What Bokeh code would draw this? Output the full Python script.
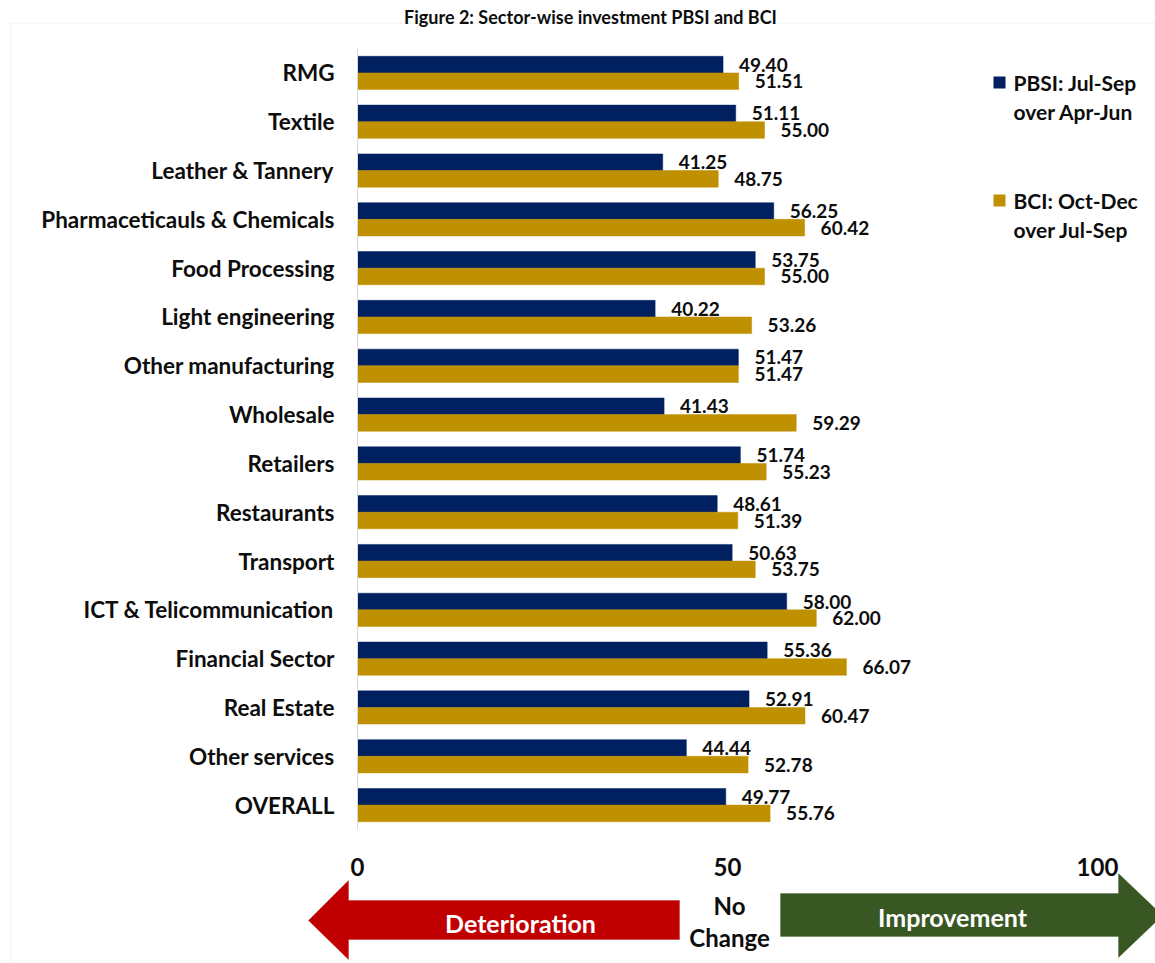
from bokeh.plotting import figure
from bokeh.models import (FixedTicker, Label, PolyAnnotation, BoxAnnotation,
                          ColumnDataSource, Range1d)
from bokeh.transform import dodge
from bokeh.core.properties import value
from bokeh.embed import file_html
from bokeh.resources import INLINE

# ---------------- data ----------------
categories = ["RMG", "Textile", "Leather & Tannery", "Pharmaceticauls & Chemicals",
              "Food Processing", "Light engineering", "Other manufacturing",
              "Wholesale", "Retailers", "Restaurants", "Transport",
              "ICT & Telicommunication", "Financial Sector", "Real Estate",
              "Other services", "OVERALL"]
pbsi = [49.40, 51.11, 41.25, 56.25, 53.75, 40.22, 51.47, 41.43, 51.74, 48.61,
        50.63, 58.00, 55.36, 52.91, 44.44, 49.77]
bci = [51.51, 55.00, 48.75, 60.42, 55.00, 53.26, 51.47, 59.29, 55.23, 51.39,
       53.75, 62.00, 66.07, 60.47, 52.78, 55.76]
series_names = ["PBSI: Jul-Sep\nover Apr-Jun", "BCI: Oct-Dec\nover Jul-Sep"]
x_ticks = [0, 50, 100]
title_text = "Figure 2: Sector-wise investment PBSI and BCI"

# ---------------- layout constants (canvas pixels) ----------------
W, H = 1155, 963
PL, PR, PT, PB = 357, 1097, 48, 829     # plot-area edges (0..100 horizontally)
BLUE = "#002060"
GOLD = "#BF9000"
RED = "#C00000"
GREEN = "#385723"
TXT = "#0d0d0d"
FONT = "Lato"

n = len(categories)
pitch = (PB - PT) / n
c0 = PT + pitch / 2
ppu = (PR - PL) / 100.0

# frame covers the whole canvas; ranges are set so the plot area lands where it should
x_range = Range1d(-PL / ppu, (W - PL) / ppu)
y_range = Range1d((H - c0) / pitch, (0 - c0) / pitch)   # flipped: first category on top

p = figure(width=W, height=H, output_backend="svg", toolbar_location=None,
           x_range=x_range, y_range=y_range,
           min_border=0, min_border_left=0, min_border_right=0,
           min_border_top=0, min_border_bottom=0)
p.outline_line_color = None
p.background_fill_color = "white"
p.border_fill_color = "white"
p.xgrid.visible = False
p.ygrid.visible = False

pos = list(range(n))
src = ColumnDataSource(dict(pos=pos, cat=categories, pbsi=pbsi, bci=bci,
                            pl=[f"{v:.2f}" for v in pbsi],
                            bl=[f"{v:.2f}" for v in bci]))

BH = 0.34
p.hbar(y=dodge("pos", -BH / 2), right="pbsi", left=0, height=BH,
       source=src, fill_color=BLUE, line_color=BLUE, line_width=0.5)
p.hbar(y=dodge("pos", BH / 2), right="bci", left=0, height=BH,
       source=src, fill_color=GOLD, line_color=GOLD, line_width=0.5)

lbl_kw = dict(x_offset=16, text_baseline="middle", text_align="left",
              text_font=value(FONT), text_font_style="bold",
              text_font_size="19px", text_color=TXT, source=src)
p.text(x="pbsi", y=dodge("pos", -BH / 2), text="pl", **lbl_kw)
p.text(x="bci", y=dodge("pos", BH / 2), text="bl", **lbl_kw)

# y axis (categories), pinned at x = 0
ya = p.yaxis[0]
ya.fixed_location = 0
ya.bounds = (-0.5, n - 0.5)
ya.ticker = FixedTicker(ticks=pos)
ya.major_label_overrides = {i: c for i, c in zip(pos, categories)}
ya.axis_line_color = "#d9d9d9"
ya.axis_line_width = 1
ya.major_tick_line_color = None
ya.minor_tick_line_color = None
ya.major_label_standoff = 17
ya.major_label_text_font = FONT
ya.major_label_text_font_style = "bold"
ya.major_label_text_font_size = "22.5px"
ya.major_label_text_color = TXT

# x axis (0 / 50 / 100), pinned under the last category
xa = p.xaxis[0]
xa.fixed_location = n - 0.5
xa.bounds = (0, 100)
xa.ticker = FixedTicker(ticks=x_ticks)
xa.axis_line_color = None
xa.major_tick_line_color = None
xa.minor_tick_line_color = None
xa.major_label_standoff = 22
xa.major_label_text_font = FONT
xa.major_label_text_font_style = "bold"
xa.major_label_text_font_size = "24px"
xa.major_label_text_color = TXT

def sy(y):  # canvas y from top -> screen y from bottom
    return H - y

# chart-area border (left & top visible)
p.add_layout(BoxAnnotation(left=10, right=W + 50, top=sy(23), bottom=-50,
                           left_units="screen", right_units="screen",
                           top_units="screen", bottom_units="screen",
                           fill_color=None, line_color="#d9dde6", line_width=1.5))

# title
p.add_layout(Label(x=590, y=sy(16), x_units="screen", y_units="screen",
                   text=title_text, text_align="center", text_baseline="alphabetic",
                   text_font=FONT, text_font_style="bold", text_font_size="18px",
                   text_color=TXT))

# legend
leg_colors = [BLUE, GOLD]
leg_y = [82, 200]
for name, col, ly in zip(series_names, leg_colors, leg_y):
    p.add_layout(BoxAnnotation(left=993, right=1005, top=sy(ly - 6), bottom=sy(ly + 6),
                               left_units="screen", right_units="screen",
                               top_units="screen", bottom_units="screen",
                               fill_color=col, fill_alpha=1, line_color=None))
    for k, line in enumerate(name.split("\n")):
        p.add_layout(Label(x=1013, y=sy(ly + 29 * k), x_units="screen", y_units="screen",
                           text=line, text_align="left", text_baseline="middle",
                           text_font=FONT, text_font_style="bold", text_font_size="21px",
                           text_color=TXT))

# arrows
red_x = [308, 348, 348, 679, 679, 348, 348]
red_y = [920, 880, 900, 900, 939, 939, 959]
p.add_layout(PolyAnnotation(xs=red_x, ys=[sy(v) for v in red_y],
                            xs_units="screen", ys_units="screen",
                            fill_color=RED, fill_alpha=1, line_color=RED, line_width=1))
green_x = [780, 1118, 1118, 1162, 1118, 1118, 780]
green_y = [893, 893, 873, 915, 957, 936, 936]
p.add_layout(PolyAnnotation(xs=green_x, ys=[sy(v) for v in green_y],
                            xs_units="screen", ys_units="screen",
                            fill_color=GREEN, fill_alpha=1, line_color=GREEN, line_width=1))

def lab(text, x, y, size, color=TXT):
    p.add_layout(Label(x=x, y=sy(y), x_units="screen", y_units="screen",
                       text=text, text_align="center", text_baseline="middle",
                       text_font=FONT, text_font_style="bold", text_font_size=size,
                       text_color=color))

lab("Deterioration", 520, 922, "25px", "white")
lab("Improvement", 952, 916, "25px", "white")
lab("No", 729, 905, "24px")
lab("Change", 729, 937, "24px")

open("out.html", "w").write(file_html(p, INLINE))
